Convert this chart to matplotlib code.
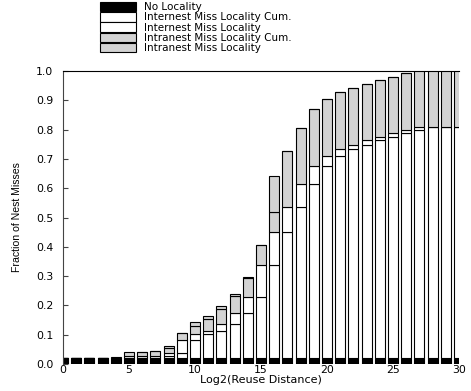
import numpy as np
import matplotlib
matplotlib.use('Agg')
import matplotlib.pyplot as plt

plt.rcParams['font.family'] = ['DejaVu Sans']

# reuse distance bins, log2
bins = np.arange(0, 31)

# segment heights, bottom to top
no_locality = [0.02] * 31
internest_cum = [0, 0, 0, 0, 0, 0.002, 0.006, 0.006, 0.009, 0.018,
                 0.061, 0.082, 0.094, 0.117, 0.153, 0.210, 0.317, 0.430, 0.515, 0.593,
                 0.657, 0.691, 0.714, 0.729, 0.744, 0.755, 0.767, 0.780, 0.790, 0.790, 0.790]
internest = [0, 0, 0, 0, 0.002, 0.004, 0.0, 0.003, 0.009, 0.043,
             0.021, 0.012, 0.023, 0.036, 0.057, 0.107, 0.113, 0.085, 0.078, 0.064,
             0.034, 0.023, 0.015, 0.015, 0.011, 0.012, 0.013, 0.010, 0, 0, 0]
intranest_cum = [0, 0, 0, 0, 0, 0.003, 0.016, 0.016, 0.016, 0.024,
                 0.026, 0.040, 0.051, 0.060, 0.065, 0.068, 0.070, 0.193, 0.193, 0.193,
                 0.193, 0.193, 0.193, 0.193, 0.193, 0.193, 0.193, 0.193, 0.193, 0.193, 0.193]
intranest = [0, 0, 0, 0, 0.003, 0.013, 0, 0, 0.008, 0.002,
             0.014, 0.011, 0.009, 0.005, 0.003, 0.002, 0.123, 0, 0, 0,
             0, 0, 0, 0, 0, 0, 0, 0, 0, 0, 0]

series = [
    ('No Locality', no_locality, 'black'),
    ('Internest Miss Locality Cum.', internest_cum, 'white'),
    ('Internest Miss Locality', internest, 'white'),
    ('Intranest Miss Locality Cum.', intranest_cum, '#d3d3d3'),
    ('Intranest Miss Locality', intranest, '#d3d3d3'),
]

fig = plt.figure(figsize=(4.71, 3.91), dpi=100)
ax = fig.add_axes([63 / 471, 1 - 364 / 391, (459 - 63) / 471, (364 - 71) / 391])

bottom = np.zeros(len(bins))
handles = []
for label, vals, col in series:
    vals = np.array(vals, dtype=float)
    b = ax.bar(bins, vals, width=0.76, bottom=bottom, color=col,
               edgecolor='black', linewidth=0.8, label=label)
    handles.append(b)
    bottom = bottom + vals

ax.set_xlim(0, 30)
ax.set_ylim(0, 1.0)
ax.set_xticks(range(0, 31, 5))
ax.set_yticks(np.arange(0, 1.01, 0.1))
ax.set_yticklabels([f'{v:.1f}' for v in np.arange(0, 1.01, 0.1)])
ax.tick_params(axis='x', length=0, pad=1, labelsize=7.8)
ax.tick_params(axis='y', direction='in', length=3.5, width=0.8, pad=7,
               labelsize=7.8, color='#444444')
for s in ['right', 'bottom']:
    ax.spines[s].set_visible(False)
ax.spines['left'].set_color('#444444')
ax.spines['left'].set_linewidth(0.8)
ax.spines['top'].set_linewidth(0.8)

ax.set_xlabel('Log2(Reuse Distance)', fontsize=8, labelpad=0)
ax.set_ylabel('Fraction of Nest Misses', fontsize=7.6, labelpad=10,
              family=['Liberation Sans Narrow', 'Liberation Sans'])

fig.legend(handles=handles, loc='upper left', bbox_to_anchor=(100 / 471, 1 - 2 / 391),
           frameon=False, fontsize=7.5, handlelength=3.45, handleheight=1.0,
           labelspacing=0.0, handletextpad=0.75, borderpad=0, borderaxespad=0)

fig.savefig('out.png', dpi=100)
